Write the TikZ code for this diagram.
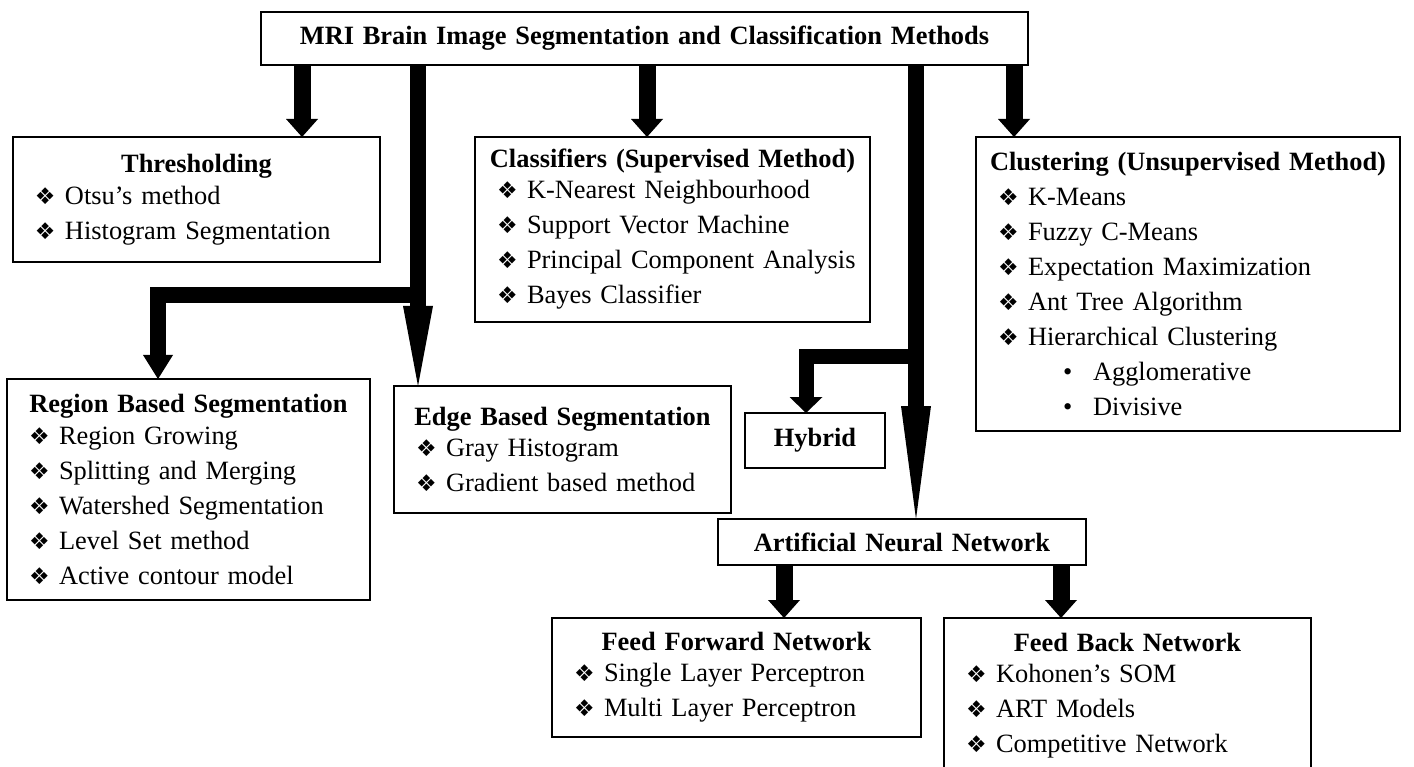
\documentclass[tikz,border=0pt]{standalone}
\usepackage{fontspec}
\setmainfont{Liberation Serif}
\newfontfamily\dingfont{DejaVu Sans}
\usetikzlibrary{arrows.meta,positioning}

\newcommand{\boxhead}[1]{\makebox[\linewidth]{\bfseries #1}}
\newcommand{\diam}[1]{\mbox{\hspace*{16pt}\makebox[30pt][l]{\dingfont\fontsize{23}{23}\selectfont ❖}#1}}
\newcommand{\dotitem}[1]{\mbox{\hspace*{81pt}\makebox[30pt][l]{•}#1}}

\begin{document}
\begin{tikzpicture}[x=1pt,y=1pt]
\tikzstyle{box}=[draw,line width=1.8pt,outer sep=0pt,inner xsep=6pt,inner ysep=0pt,anchor=north west,align=left,font=\fontsize{26.4}{35}\selectfont]
\tikzstyle{fatarrow}=[line width=17pt,-{Triangle[length=18pt,width=32pt,line width=0pt]}]
\tikzstyle{longarrow}=[line width=16pt,-{Triangle[length=#1,width=30pt,line width=0pt]}]

\path[use as bounding box,fill=white] (0,0) rectangle (1414,-767);

\node[box,text width=755pt,minimum height=53pt,align=center] (mri) at (261,-12) {\bfseries MRI Brain Image Segmentation and Classification Methods};

\node[box,text width=355pt,minimum height=125pt] (thr) at (13,-137) {\boxhead{Thresholding}\\[-3pt]
\diam{Otsu’s method}\\ \diam{Histogram Segmentation}};
\node[box,text width=383pt,minimum height=185pt] (cls) at (475,-137) {\boxhead{Classifiers (Supervised Method)}\\[-4pt]
\diam{K-Nearest Neighbourhood}\\ \diam{Support Vector Machine}\\ \diam{Principal Component Analysis}\\ \diam{Bayes Classifier}};
\node[box,text width=412pt,minimum height=294pt] (clu) at (976,-137) {\boxhead{Clustering (Unsupervised Method)}\\
\diam{K-Means}\\ \diam{Fuzzy C-Means}\\ \diam{Expectation Maximization}\\ \diam{Ant Tree Algorithm}\\ \diam{Hierarchical Clustering}\\
\dotitem{Agglomerative}\\ \dotitem{Divisive}};
\node[box,text width=351pt,minimum height=221pt] (reg) at (7,-379) {\boxhead{Region Based Segmentation}\\[-3pt]
\diam{Region Growing}\\ \diam{Splitting and Merging}\\ \diam{Watershed Segmentation}\\ \diam{Level Set method}\\ \diam{Active contour model}};
\node[box,text width=325pt,minimum height=127pt] (edge) at (394,-386) {\boxhead{Edge Based Segmentation}\\[-4pt]
\diam{Gray Histogram}\\ \diam{Gradient based method}};
\node[box,text width=128pt,minimum height=55pt,align=center] (hyb) at (745,-413) {\bfseries Hybrid};
\node[box,text width=356pt,minimum height=46pt,align=center] (ann) at (718,-519) {\bfseries Artificial Neural Network};
\node[box,text width=357pt,minimum height=119pt] (ff) at (552,-618) {\boxhead{Feed Forward Network}\\[-4pt]
\diam{Single Layer Perceptron}\\ \diam{Multi Layer Perceptron}};
\node[box,text width=355pt,minimum height=155pt] (fb) at (944,-618) {\boxhead{Feed Back Network}\\[-4pt]
\diam{Kohonen’s SOM}\\ \diam{ART Models}\\ \diam{Competitive Network}};

\coordinate (thrx) at (302,0);
\coordinate (clsx) at (647,0);
\coordinate (clux) at (1014,0);
\coordinate (edgex) at (418,0);
\coordinate (annx) at (916,0);
\coordinate (regx) at (158,0);
\coordinate (hybx) at (806,0);
\coordinate (ffx) at (784,0);
\coordinate (fbx) at (1061,0);
\coordinate (regfork) at (418,-295);
\coordinate (hybfork) at (916,-357);

\draw[fatarrow] (mri.south -| thrx) -- (thr.north -| thrx);
\draw[fatarrow] (mri.south -| clsx) -- (cls.north -| clsx);
\draw[fatarrow] (mri.south -| clux) -- (clu.north -| clux);
\draw[longarrow=80pt] (mri.south -| edgex) -- (edge.north -| edgex);
\draw[fatarrow,line width=16pt,-{Triangle[length=24pt,width=30pt,line width=0pt]}] (regfork) -| (reg.north -| regx);
\draw[longarrow=113pt] (mri.south -| annx) -- (ann.north -| annx);
\draw[fatarrow,line width=15pt,-{Triangle[length=16pt,width=33pt,line width=0pt]}] (hybfork) -| (hyb.north -| hybx);
\draw[fatarrow] (ann.south -| ffx) -- (ff.north -| ffx);
\draw[fatarrow] (ann.south -| fbx) -- (fb.north -| fbx);
\end{tikzpicture}
\end{document}
